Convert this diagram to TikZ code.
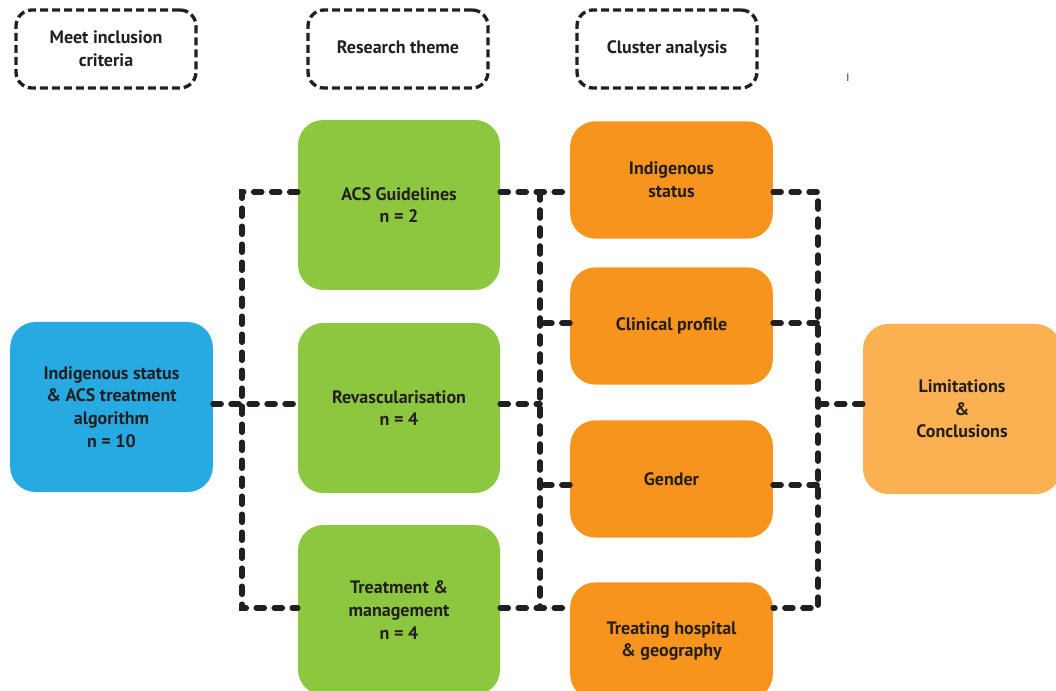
\documentclass[tikz,border=0pt]{standalone}
\usepackage{fontspec}
\setmainfont{PT Sans}
\usetikzlibrary{positioning}
\definecolor{themegreen}{HTML}{8DC63F}
\definecolor{clusterorange}{HTML}{F7941D}
\definecolor{studyblue}{HTML}{27AAE1}
\definecolor{resultorange}{HTML}{FBB152}
\definecolor{inkblack}{HTML}{231F20}
\tikzset{
  label text/.style={text=inkblack, align=center, font=\fontsize{13.5}{17}\selectfont\bfseries},
  box/.style={label text, rounded corners=19pt, minimum width=152pt, minimum height=127.5pt},
  theme/.style={box, fill=themegreen, minimum width=151.5pt},
  cluster/.style={box, fill=clusterorange, minimum height=88pt},
  heading/.style={label text, draw=inkblack, line width=2.5pt, dash pattern=on 6pt off 3pt,
    rounded corners=12pt, minimum width=135pt, minimum height=58.5pt},
  link/.style={draw=inkblack, line width=4.2pt, dash pattern=on 6pt off 7.5pt, line cap=round},
}
\begin{document}
\begin{tikzpicture}[x=0.75pt, y=-0.75pt]
    \useasboundingbox (0,0) rectangle (1056,691);
    \node (inclusion) [heading] at (106,49) {Meet inclusion\\criteria};
    \node (themehead) [heading] at (398,49) {\raisebox{3pt}{Research theme}};
    \node (clusterhead) [heading] at (667,49) {\raisebox{3pt}{Cluster analysis}};
    \node (cursor) [text=inkblack, font=\fontsize{8}{8}\selectfont] at (848,78) {I};

    \node (study) [box, fill=studyblue] at (111.5,407) {Indigenous status\\\& ACS treatment\\algorithm\\n = 10};

    \node (guide) [theme] at (399,205) {ACS Guidelines\\n = 2};
    \node (revasc) [theme] at (399,408) {Revascularisation\\n = 4};
    \node (manage) [theme] at (399,610) {Treatment \&\\management\\n = 4};

    \node (indig) [cluster] at (671.5,180) {Indigenous\\status};
    \node (clinic) [cluster] at (671.5,326) {Clinical profile};
    \node (gender) [cluster] at (671.5,479) {Gender};
    \node (hosp) [cluster] at (671.5,641) {Treating hospital\\\& geography};

    \node (limits) [box, fill=resultorange, minimum width=148.5pt] at (962,409) {Limitations\\\&\\Conclusions};

    \coordinate (lefttop) at (242,192);
    \coordinate (leftbot) at (242,608);
    \coordinate (midtop) at (540,192);
    \coordinate (midbot) at (540,608);
    \coordinate (righttop) at (818,192);
    \coordinate (rightbot) at (818,608);

    \draw[link] (study.east |- 0,404) -- (revasc.west |- 0,404);
    \draw[link] (guide.west |- lefttop) -- (lefttop) -- (leftbot) -- (manage.west |- leftbot);

    \draw[link] (guide.east |- midtop) -- (indig.west |- midtop);
    \draw[link] (midtop) -- (midbot);
    \draw[link] (manage.east |- midbot) -- (hosp.west |- midbot);
    \draw[link] (revasc.east |- 0,404) -- (midtop |- 0,404);
    \draw[link] (clinic.west |- 0,323) -- (midtop |- 0,323);
    \draw[link] (gender.west |- 0,485) -- (midtop |- 0,485);

    \draw[link] (indig.east |- righttop) -- (righttop) -- (rightbot) -- (hosp.east |- rightbot);
    \draw[link] (clinic.east |- 0,323) -- (righttop |- 0,323);
    \draw[link] (gender.east |- 0,485) -- (righttop |- 0,485);
    \draw[link] (limits.west |- 0,404) -- (righttop |- 0,404);
\end{tikzpicture}
\end{document}
